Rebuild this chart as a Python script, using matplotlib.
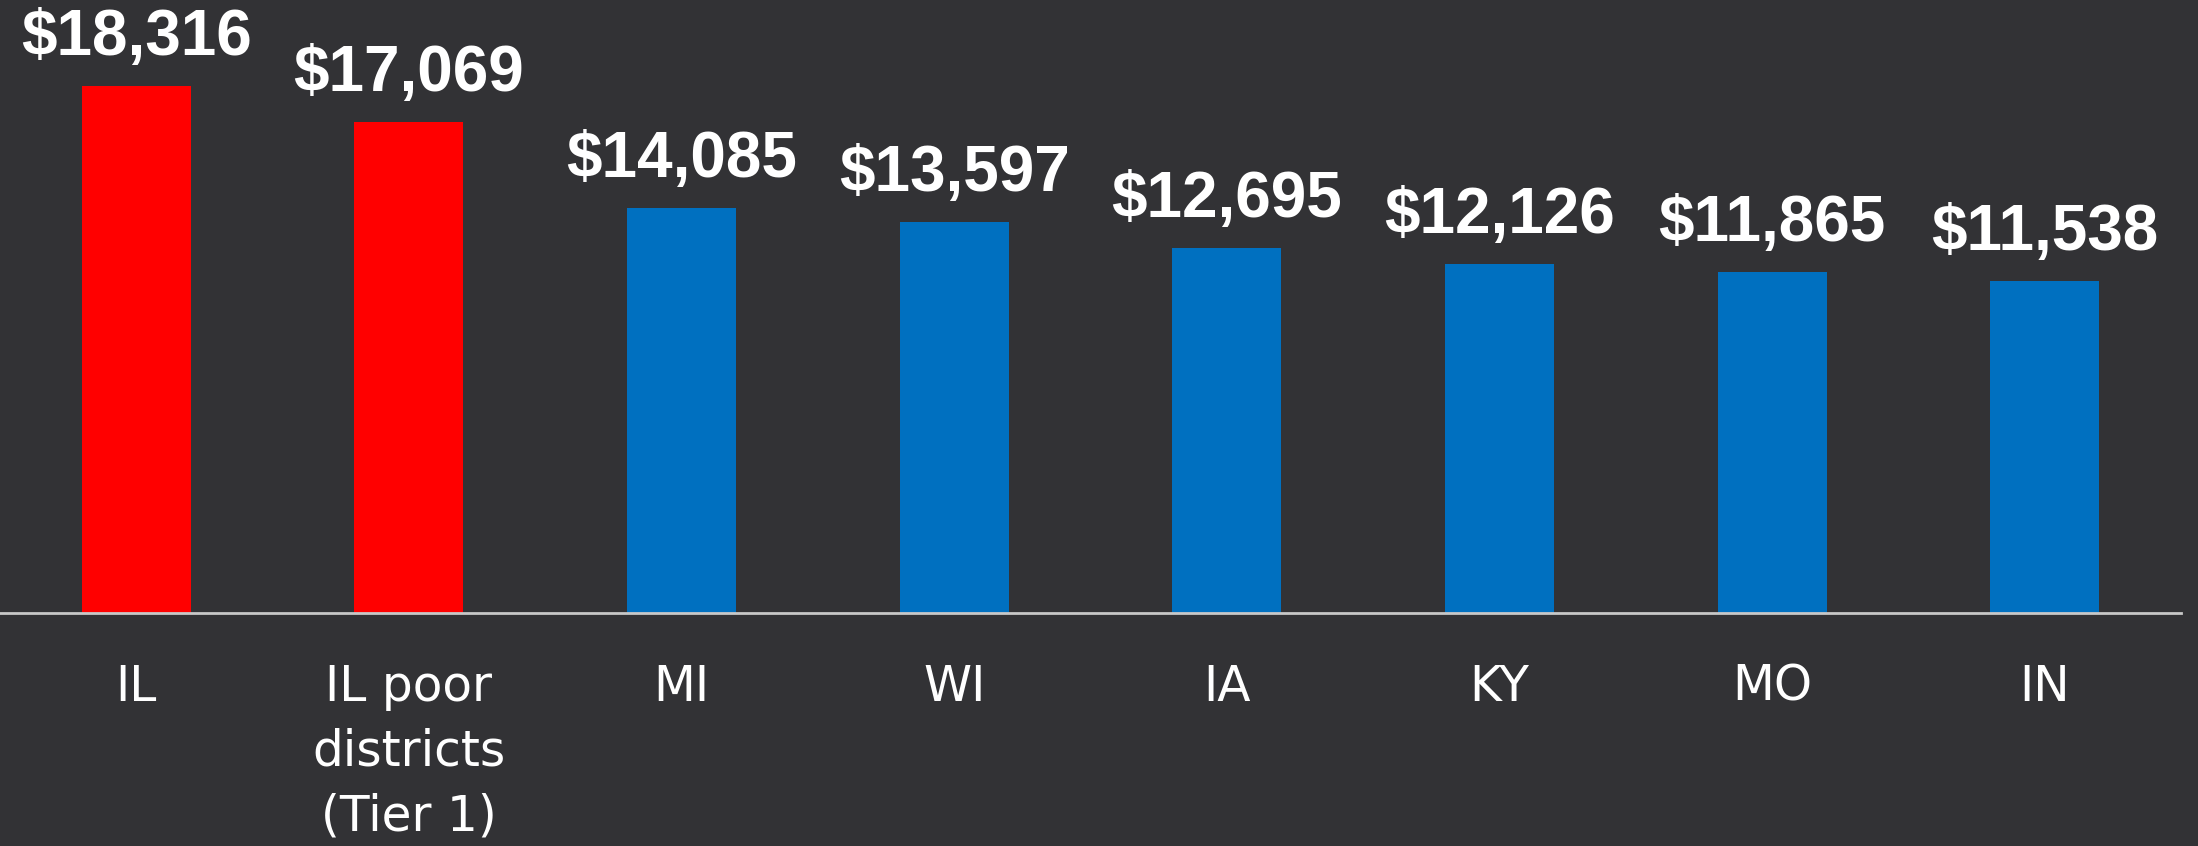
import numpy as np
import matplotlib.pyplot as plt

# per-pupil spending
states = ["IL", "IL poor\ndistricts\n(Tier 1)", "MI", "WI", "IA", "KY", "MO", "IN"]
spending = [18316, 17069, 14085, 13597, 12695, 12126, 11865, 11538]
bar_colors = ["#FF0000", "#FF0000", "#0070C0", "#0070C0",
              "#0070C0", "#0070C0", "#0070C0", "#0070C0"]

bg = "#323235"

fig = plt.figure(figsize=(21.98, 8.46), dpi=100, facecolor=bg)
ax = fig.add_axes([0, 0.2759, 2181 / 2198, 1 - 0.2759])
ax.set_facecolor(bg)

x = np.arange(len(states))
bars = ax.bar(x, spending, width=0.4, color=bar_colors, zorder=2)

ax.bar_label(bars, labels=[f"${v:,}" for v in spending], padding=13,
             fontsize=46, fontweight="bold", color="white",
             family="Liberation Sans")

ax.set_xlim(-0.5, len(states) - 0.5)
ax.set_ylim(0, 21320)

ax.set_xticks(x, states)
ax.tick_params(axis="x", length=0, pad=36, labelsize=35, labelcolor="white")
for lbl in ax.get_xticklabels():
    lbl.set_linespacing(1.45)
ax.set_yticks([])

for side in ["top", "left", "right"]:
    ax.spines[side].set_visible(False)
ax.spines["bottom"].set_color("#C8C8C8")
ax.spines["bottom"].set_linewidth(2)

fig.savefig("out.png", dpi=100, facecolor=bg)
